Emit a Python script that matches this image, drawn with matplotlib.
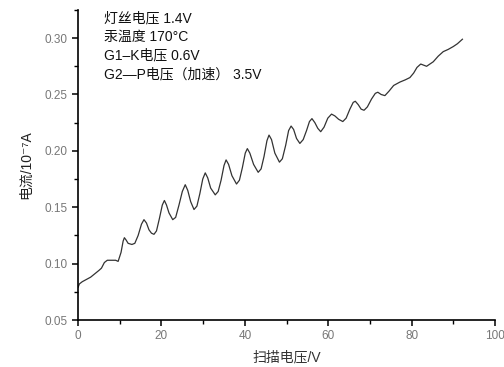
import matplotlib.pyplot as plt
from matplotlib.ticker import MultipleLocator

plt.rcParams['font.family'] = ['Liberation Sans', 'Noto Sans CJK SC', 'DejaVu Sans']

# scan voltage (V) and current (1e-7 A)
voltage = [0.0, 0.3, 1.0, 2.0, 3.0, 4.0, 5.0, 5.6, 6.3, 7.0, 8.0, 9.0, 9.6,
           10.3, 10.8, 11.1, 11.5, 12.0, 12.9, 13.6, 14.4, 15.2, 15.8, 16.4,
           17.0, 17.6, 18.2, 18.8, 19.5, 20.2, 20.7, 21.2, 21.8, 22.7, 23.4,
           24.2, 25.0, 25.7, 26.3, 27.0, 27.8, 28.5, 29.2, 29.9, 30.5, 31.1,
           31.8, 32.9, 33.6, 34.3, 35.0, 35.5, 36.1, 36.9, 38.0, 38.7, 39.4,
           40.1, 40.6, 41.2, 42.1, 43.2, 43.9, 44.6, 45.3, 45.8, 46.4, 47.2,
           48.3, 49.0, 49.8, 50.5, 51.1, 51.7, 52.4, 53.2, 54.0, 54.8, 55.5,
           56.1, 56.8, 57.5, 58.2, 59.0, 59.9, 60.8, 61.6, 62.5, 63.5, 64.3,
           65.2, 66.0, 66.5, 67.2, 67.9, 68.6, 69.4, 70.4, 71.3, 71.9, 72.7,
           73.6, 74.6, 75.7, 77.2, 78.5, 79.6, 80.5, 81.3, 82.2, 82.9, 83.6,
           84.4, 85.2, 86.4, 87.6, 88.8, 90.0, 91.0, 92.2]
current = [0.079, 0.082, 0.084, 0.086, 0.088, 0.091, 0.094, 0.096, 0.101,
           0.103, 0.103, 0.103, 0.102, 0.110, 0.120, 0.123, 0.121, 0.118,
           0.117, 0.118, 0.125, 0.135, 0.139, 0.136, 0.130, 0.127, 0.126,
           0.129, 0.140, 0.152, 0.156, 0.152, 0.145, 0.139, 0.141, 0.152,
           0.164, 0.170, 0.165, 0.155, 0.148, 0.151, 0.162, 0.175, 0.1805,
           0.176, 0.167, 0.161, 0.164, 0.174, 0.187, 0.192, 0.188, 0.178,
           0.1706, 0.174, 0.185, 0.198, 0.202, 0.198, 0.188, 0.181, 0.184,
           0.195, 0.209, 0.214, 0.210, 0.198, 0.190, 0.193, 0.205, 0.218,
           0.222, 0.219, 0.211, 0.2066, 0.210, 0.218, 0.226, 0.2286, 0.225,
           0.220, 0.217, 0.221, 0.229, 0.2326, 0.231, 0.228, 0.226, 0.229,
           0.237, 0.243, 0.244, 0.241, 0.237, 0.236, 0.239, 0.246, 0.251,
           0.252, 0.250, 0.249, 0.253, 0.258, 0.261, 0.263, 0.265, 0.269,
           0.274, 0.277, 0.276, 0.275, 0.277, 0.279, 0.284, 0.288, 0.290,
           0.2925, 0.295, 0.299]

notes = ['灯丝电压 1.4V', '汞温度 170°C', 'G1–K电压 0.6V', 'G2—P电压（加速） 3.5V']

fig = plt.figure(figsize=(5.04, 3.67), dpi=100)
ax = fig.add_axes([0.155, 0.128, 0.827, 0.845])

ax.plot(voltage, current, color='#333333', lw=0.9)

ax.set_xlim(0, 100)
ax.set_ylim(0.05, 0.325)
ax.xaxis.set_major_locator(MultipleLocator(20))
ax.xaxis.set_minor_locator(MultipleLocator(10))
ax.yaxis.set_major_locator(MultipleLocator(0.05))
ax.yaxis.set_minor_locator(MultipleLocator(0.025))
ax.yaxis.set_major_formatter(plt.FormatStrFormatter('%.2f'))

for s in ['top', 'right']:
    ax.spines[s].set_visible(False)
for s in ['left', 'bottom']:
    ax.spines[s].set_linewidth(1.2)
ax.tick_params(which='major', direction='out', length=4, width=1.1,
               labelsize=8.5, labelcolor='#777777')
ax.tick_params(which='minor', direction='out', length=3, width=1.0)

ax.set_xlabel('扫描电压/V', fontsize=10, color='#333333', labelpad=6)
ax.set_ylabel('电流/10⁻⁷A', fontsize=10, color='#222222', labelpad=8)

for i, t in enumerate(notes):
    fig.text(0.206, 0.951 - i * 0.0515, t, fontsize=10, va='center',
             ha='left', color='#111111')

fig.savefig('out.png', dpi=100)
